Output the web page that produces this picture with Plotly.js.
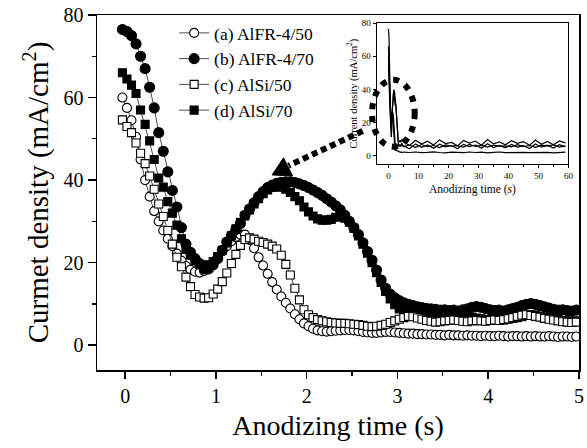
<!DOCTYPE html>
<html><head><meta charset="utf-8">
<script src="https://cdn.plot.ly/plotly-3.0.1.min.js"></script>
<style>html,body{margin:0;padding:0;background:#fff}#chart{width:587px;height:448px}</style>
</head><body><div id="chart"></div>
<script>
// Sampling of the main-panel series (s)
const startTime = -0.03;
const timeStep = 0.05;

const legendNames = ['(a) AlFR-4/50', '(b) AlFR-4/70', '(c) AlSi/50', '(d) AlSi/70'];

// (a) AlFR-4/50  (open circles)
const alfr50 = [
  60, 57.5, 54.5, 50.5, 45, 40, 36, 32.5, 30, 27.8,
  25.8, 24.0, 22.2, 20.5, 19.2, 18.3, 17.8, 17.6, 18.0, 18.8,
  20.0, 21.3, 22.7, 24.0, 25.2, 26.2, 26.8, 26.8, 25.5, 23.5,
  21.3, 19.3, 17.3, 15.3, 13.5, 11.8, 10.3, 8.9, 7.5, 6.3,
  5.3, 4.6, 4.0, 3.6, 3.4, 3.3, 3.4, 3.5, 3.6, 3.7,
  3.7, 3.6, 3.4, 3.2, 3.1, 3.0, 3.0, 3.1, 3.2, 3.2,
  3.1, 3.0, 2.9, 2.8, 2.8, 2.7, 2.7, 2.6, 2.6, 2.5,
  2.5, 2.4, 2.5, 2.4, 2.4, 2.3, 2.4, 2.3, 2.3, 2.2,
  2.3, 2.2, 2.2, 2.3, 2.2, 2.1, 2.2, 2.2, 2.1, 2.2,
  2.1, 2.2, 2.1, 2.1, 2.2, 2.1, 2.0, 2.1, 2.1, 2.0,
  2.1
];
// (b) AlFR-4/70  (filled circles)
const alfr70 = [
  76.5, 76.0, 75.0, 73.0, 70.0, 67.0, 62.5, 57.5, 51.5, 47.0,
  42.0, 37.5, 33.5, 28.5, 24.5, 22.5, 21.0, 19.8, 18.5, 18.5,
  19.5, 21.0, 23.0, 25.0, 26.5, 28.0, 29.5, 31.5, 33.0, 34.5,
  36.0, 37.2, 38.2, 38.8, 39.2, 39.5, 39.6, 39.6, 39.4, 39.1,
  38.7, 38.2, 37.6, 37.0, 36.3, 35.5, 34.7, 33.8, 32.8, 31.5,
  30.0, 28.5, 26.8, 24.8, 22.7, 20.6, 18.2, 15.8, 13.8, 12.4,
  11.5, 10.8, 10.3, 9.9, 9.6, 9.3, 9.1, 8.9, 8.8, 8.7,
  8.5, 8.6, 8.4, 8.5, 8.3, 8.6, 8.8, 9.2, 9.4, 9.2,
  8.9, 8.6, 8.4, 8.5, 8.3, 8.6, 8.9, 9.2, 9.6, 9.9,
  10.1, 9.9, 9.6, 9.3, 9.0, 8.7, 8.5, 8.6, 8.4, 8.3,
  8.5
];
// (c) AlSi/50  (open squares)
const alsi50 = [
  54.6, 53, 51.5, 49, 46.5, 44, 41, 37.8, 34.2, 31.2,
  27.8, 24.5, 21.3, 19.0, 16.5, 14.2, 12.3, 11.7, 11.4, 11.5,
  12.4, 13.6, 15.4, 17.5, 19.8, 22.0, 24.2, 25.6, 26.0, 25.7,
  25.2, 24.9, 24.5, 24.0, 23.3, 21.8, 19.6, 17.0, 13.8, 11.0,
  8.6, 7.4, 6.7, 6.2, 5.9, 5.7, 5.5, 5.4, 5.3, 5.3,
  5.2, 5.1, 5.0, 4.8, 4.6, 4.5, 4.6, 4.8, 5.1, 5.5,
  5.9, 6.3, 6.7, 7.0, 6.9, 6.6, 6.3, 6.0, 5.8, 5.6,
  5.7, 5.9, 6.0, 6.1, 6.0, 5.8, 5.7, 5.9, 6.0, 5.9,
  5.8, 6.0, 6.1, 6.0, 6.2, 6.4, 6.7, 7.0, 7.3, 7.4,
  7.2, 7.0, 6.8, 6.5, 6.3, 6.1, 5.9, 5.7, 5.6, 5.5,
  5.6
];
// (d) AlSi/70  (filled squares)
const alsi70 = [
  66, 64.5, 63, 61, 57, 53.5, 49.5, 45, 40.5, 38.3,
  34.8, 32, 29.1, 25.8, 23.2, 21.8, 20.5, 19.5, 19.0, 19.5,
  20.3, 21.5, 23.0, 24.8, 26.5, 28.2, 29.8, 31.3, 32.8, 34.2,
  35.5, 36.7, 37.6, 38.2, 38.4, 38.3, 37.8, 37.0, 36.0, 35.0,
  33.5, 32.3, 31.3, 30.6, 30.3, 30.3, 30.5, 31.0, 31.2, 30.8,
  29.8, 28.3, 26.5, 24.5, 22.3, 20.0, 17.6, 15.2, 13.0, 11.2,
  9.8, 8.8, 8.0, 7.5, 7.2, 7.0, 6.8, 6.7, 6.5, 6.6,
  6.4, 6.5, 6.3, 6.4, 6.2, 6.4, 6.6, 6.8, 6.6, 6.4,
  6.2, 6.1, 6.2, 6.0, 6.1, 6.3, 6.5, 6.7, 6.9, 7.2,
  7.4, 7.3, 7.0, 6.8, 6.6, 6.4, 6.2, 6.0, 5.9, 5.8,
  5.9
];

// Inset: long-time tails (5 - 60 s)
const tailTime = [5, 7, 9, 11, 13, 15, 17, 19, 21, 23, 25, 27, 29, 31, 33, 35, 37, 39, 41, 43, 45, 47, 49, 51, 53, 55, 57, 59];
const alfr50Tail = [2.2, 2.0, 2.3, 1.9, 2.1, 2.4, 2.0, 1.8, 2.2, 2.1, 1.9, 2.3, 2.0, 2.2, 1.8, 2.1, 2.3, 1.9, 2.0, 2.2, 2.1, 1.9, 2.0, 2.3, 2.1, 1.8, 2.0, 2.2];
const alfr70Tail = [8.5, 6.2, 9.4, 7.1, 8.8, 6.5, 9.6, 7.4, 8.1, 6.0, 9.2, 7.7, 8.9, 6.4, 9.8, 7.2, 8.4, 6.7, 9.1, 7.5, 8.6, 6.3, 9.5, 7.0, 8.7, 6.6, 9.0, 7.8];
const alsi50Tail = [5.6, 6.4, 5.1, 6.8, 5.5, 6.2, 5.0, 6.6, 5.8, 6.1, 5.3, 6.9, 5.7, 6.3, 5.2, 6.5, 5.9, 6.0, 5.4, 6.7, 5.6, 6.2, 5.1, 6.4, 5.8, 6.6, 5.3, 6.0];
const alsi70Tail = [6.0, 4.3, 7.2, 5.1, 6.6, 4.5, 7.0, 5.4, 6.2, 4.2, 6.9, 5.6, 6.5, 4.6, 7.3, 5.0, 6.3, 4.8, 6.8, 5.3, 6.1, 4.4, 7.1, 5.2, 6.4, 4.7, 6.7, 5.5];

const serif = 'Liberation Serif, Times New Roman, serif';

function mainTrace(y, name, symbol, filled, size, rank) {
  return {
    type: 'scatter', mode: 'lines+markers', name: name, y: y,
    x0: startTime, dx: timeStep, xaxis: 'x', yaxis: 'y',
    line: {color: 'black', width: 0.7},
    marker: {symbol: symbol, size: size, color: filled ? 'black' : 'white',
             line: {color: 'black', width: 1.1}},
    legendrank: rank, cliponaxis: true
  };
}
function insetTrace(y, x, useStep) {
  const t = {type: 'scatter', mode: 'lines', y: y, xaxis: 'x2', yaxis: 'y2',
    line: {color: 'black', width: 1.2}, showlegend: false, hoverinfo: 'skip'};
  if (useStep) { t.x0 = startTime; t.dx = timeStep; } else { t.x = x; }
  return t;
}

const data = [
  mainTrace(alfr50, legendNames[0], 'circle', false, 9, 1),
  mainTrace(alfr70, legendNames[1], 'circle', true, 10, 2),
  mainTrace(alsi70, legendNames[3], 'square', true, 8, 4),
  mainTrace(alsi50, legendNames[2], 'square', false, 8, 3),
  insetTrace(alfr50, null, true), insetTrace(alfr70, null, true),
  insetTrace(alsi50, null, true), insetTrace(alsi70, null, true),
  insetTrace(alfr50Tail, tailTime, false), insetTrace(alfr70Tail, tailTime, false),
  insetTrace(alsi50Tail, tailTime, false), insetTrace(alsi70Tail, tailTime, false)
];

const axisBase = {showline: true, mirror: true, linecolor: 'black', showgrid: false, zeroline: false,
                  ticks: 'outside', tickcolor: 'black'};

const layout = {
  width: 587, height: 448,
  margin: {l: 97, r: 8, t: 15, b: 78},
  paper_bgcolor: 'white', plot_bgcolor: 'white',
  font: {family: serif, color: 'black'},
  showlegend: true,
  legend: {x: 0.16, y: 1.0, xanchor: 'left', yanchor: 'top', bgcolor: 'rgba(0,0,0,0)',
           font: {family: serif, size: 17.5, color: 'black'}, tracegroupgap: 0},
  xaxis: Object.assign({}, axisBase, {
    domain: [0, 1], range: [-0.31, 5], tickvals: [0, 1, 2, 3, 4, 5],
    linewidth: 1.5, ticklen: 7, tickwidth: 1.5,
    minor: {ticks: 'outside', tickvals: [0.5, 1.5, 2.5, 3.5, 4.5], ticklen: 4, tickwidth: 1.2, tickcolor: 'black'},
    tickfont: {family: serif, size: 20},
    title: {text: 'Anodizing time (s)', font: {family: serif, size: 28}, standoff: 10}
  }),
  yaxis: Object.assign({}, axisBase, {
    domain: [0, 1], range: [-6, 80], tickvals: [0, 20, 40, 60, 80],
    linewidth: 1.5, ticklen: 8, tickwidth: 1.5,
    minor: {ticks: 'outside', tickvals: [10, 30, 50, 70], ticklen: 4, tickwidth: 1.2, tickcolor: 'black'},
    tickfont: {family: serif, size: 20},
    title: {text: 'Curmet density (mA/cm<sup>2</sup>)', font: {family: serif, size: 29}, standoff: 6}
  }),
  xaxis2: Object.assign({}, axisBase, {
    domain: [0.580, 0.978], anchor: 'y2', range: [-4, 60], tickvals: [0, 10, 20, 30, 40, 50, 60],
    linewidth: 1, ticklen: 3, tickwidth: 1,
    minor: {ticks: 'outside', tickvals: [5, 15, 25, 35, 45, 55], ticklen: 2, tickwidth: 1, tickcolor: 'black'},
    tickfont: {family: serif, size: 9},
    title: {text: 'Anodizing time (<i>s</i>)', font: {family: serif, size: 11.5}, standoff: 5}
  }),
  yaxis2: Object.assign({}, axisBase, {
    domain: [0.580, 0.977], anchor: 'x2', range: [-5, 80], tickvals: [0, 20, 40, 60, 80],
    linewidth: 1, ticklen: 3, tickwidth: 1,
    tickfont: {family: serif, size: 9},
    title: {text: 'Current density (mA/cm<sup>2</sup>)', font: {family: serif, size: 10.5}, standoff: 2}
  }),
  shapes: [
    {type: 'circle', xref: 'x', yref: 'y', x0: 2.72, x1: 3.19, y0: 48.1, y1: 64.3,
     line: {color: 'black', width: 6, dash: '6px,7px'}, layer: 'above'},
    {type: 'line', xref: 'x', yref: 'y', x0: 2.617, y0: 51.9, x1: 1.80, y1: 43.5,
     line: {color: 'black', width: 6, dash: '6px,4px'}, layer: 'above'},
    {type: 'path', xref: 'x', yref: 'y', path: 'M 1.619 41.26 L 1.845 41.0 L 1.745 45.4 Z',
     fillcolor: 'black', line: {color: 'black', width: 1}, layer: 'above'}
  ]
};

Plotly.newPlot('chart', data, layout, {staticPlot: true, displayModeBar: false});
</script>
</body></html>
